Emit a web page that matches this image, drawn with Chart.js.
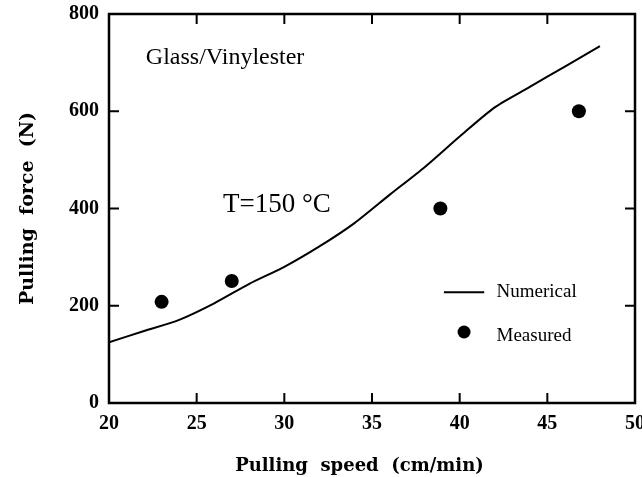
<!DOCTYPE html>
<html><head><meta charset="utf-8">
<script src="https://cdn.jsdelivr.net/npm/chart.js@4"></script>
<style>html,body{margin:0;padding:0;background:#fff}#wrap{width:642px;height:477px}</style>
</head><body><div id="wrap"><canvas id="c" width="642" height="477"></canvas></div>
<script>
const numSpeed = [20, 22, 24, 26, 28, 30, 32, 34, 36, 38, 40, 42, 44, 46, 48];
const numForce = [125, 148, 171, 205, 245, 280, 322, 370, 428, 485, 548, 608, 650, 692, 734];
const measSpeed = [23.0, 27.0, 38.9, 46.8];
const measForce = [208, 251, 400, 600];
const xTicks = [20, 25, 30, 35, 40, 45, 50];
const yTicks = [0, 200, 400, 600, 800];
const seriesNames = ['Numerical', 'Measured'];
const annoText = ['Glass/Vinylester', 'T=150 \u00B0C'];

const SERIF = '"Liberation Serif","DejaVu Serif",serif';
const TITLE = '"DejaVu Serif","Liberation Serif",serif';

const framePlugin = {
  id: 'frame',
  afterDatasetsDraw(chart) {
    const {ctx, chartArea: a, scales: {x, y}} = chart;
    ctx.save();
    ctx.strokeStyle = '#000';
    ctx.lineWidth = 2.5;
    ctx.strokeRect(a.left, a.top, a.right - a.left, a.bottom - a.top);
    ctx.lineWidth = 2;
    const tl = 10;
    xTicks.forEach(v => {
      const px = x.getPixelForValue(v);
      ctx.beginPath();
      ctx.moveTo(px, a.bottom); ctx.lineTo(px, a.bottom - tl);
      ctx.moveTo(px, a.top); ctx.lineTo(px, a.top + tl);
      ctx.stroke();
    });
    yTicks.forEach(v => {
      const py = y.getPixelForValue(v);
      ctx.beginPath();
      ctx.moveTo(a.left, py); ctx.lineTo(a.left + tl, py);
      ctx.moveTo(a.right, py); ctx.lineTo(a.right - tl, py);
      ctx.stroke();
    });
    // annotations
    ctx.fillStyle = '#000';
    ctx.textBaseline = 'middle';
    ctx.textAlign = 'left';
    ctx.font = '24px ' + SERIF;
    ctx.fillText(annoText[0], x.getPixelForValue(22.1), y.getPixelForValue(710));
    ctx.font = '27px ' + SERIF;
    ctx.fillText(annoText[1], x.getPixelForValue(26.5), y.getPixelForValue(407));
    // legend
    ctx.font = '19px ' + SERIF;
    const lx1 = x.getPixelForValue(39.1), lx2 = x.getPixelForValue(41.4);
    const ly1 = y.getPixelForValue(228), ly2 = y.getPixelForValue(146);
    ctx.lineWidth = 2;
    ctx.beginPath(); ctx.moveTo(lx1, ly1); ctx.lineTo(lx2, ly1); ctx.stroke();
    ctx.fillText(seriesNames[0], x.getPixelForValue(42.1), ly1);
    ctx.beginPath(); ctx.arc((lx1 + lx2) / 2, ly2, 6.5, 0, Math.PI * 2); ctx.fill();
    ctx.fillText(seriesNames[1], x.getPixelForValue(42.1), ly2 + 4);
    ctx.restore();
  }
};

new Chart(document.getElementById('c'), {
  type: 'scatter',
  data: {
    datasets: [
      {
        label: seriesNames[0],
        data: numSpeed.map((s, i) => ({x: s, y: numForce[i]})),
        showLine: true, borderColor: '#000', borderWidth: 2, pointRadius: 0, tension: 0.25
      },
      {
        label: seriesNames[1],
        data: measSpeed.map((s, i) => ({x: s, y: measForce[i]})),
        showLine: false, pointRadius: 7, backgroundColor: '#000', borderColor: '#000', borderWidth: 0
      }
    ]
  },
  options: {
    responsive: false, animation: false,
    layout: {padding: {top: 14, right: 5, left: 0, bottom: 0}},
    plugins: {legend: {display: false}, tooltip: {enabled: false}},
    scales: {
      x: {
        type: 'linear', min: 20, max: 50,
        afterBuildTicks: s => { s.ticks = xTicks.map(v => ({value: v})); },
        afterFit: s => { s.height = 74; s.paddingLeft = 0; s.paddingRight = 0; },
        grid: {display: false, drawTicks: false}, border: {display: false},
        ticks: {color: '#000', padding: 9, font: {family: SERIF, size: 20, weight: 'bold'}},
        title: {display: true, text: 'Pulling  speed  (cm/min)\u00A0\u00A0\u00A0\u00A0', color: '#000', padding: {top: 9, bottom: 0},
          font: {family: TITLE, size: 18, weight: 'bold'}}
      },
      y: {
        type: 'linear', min: 0, max: 800,
        afterBuildTicks: s => { s.ticks = yTicks.map(v => ({value: v})); },
        afterFit: s => { s.width = 109; s.paddingTop = 0; s.paddingBottom = 0; },
        grid: {display: false, drawTicks: false}, border: {display: false},
        ticks: {color: '#000', padding: 10, font: {family: SERIF, size: 20, weight: 'bold'}},
        title: {display: true, text: 'Pulling  force  (N)', color: '#000', padding: {top: 17, bottom: 0},
          font: {family: TITLE, size: 19, weight: 'bold'}}
      }
    }
  },
  plugins: [framePlugin]
});
</script></body></html>
